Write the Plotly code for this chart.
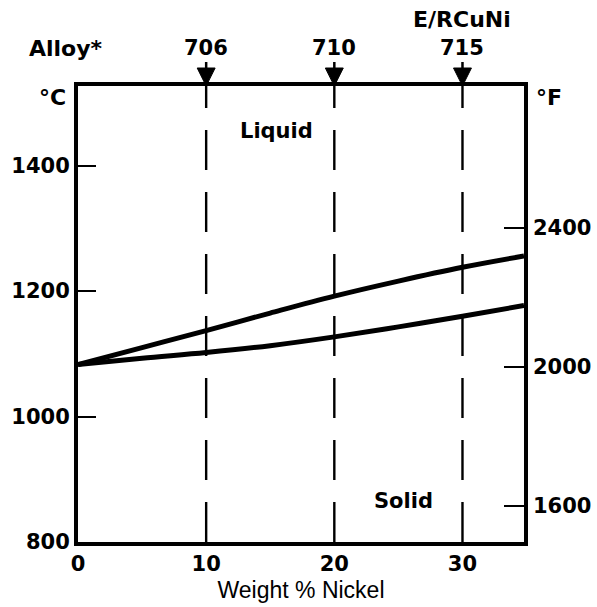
import plotly.graph_objects as go

# ---- data ----
nickel_pct = [0, 5, 10, 15, 20, 25, 30, 34.8]
liquidus_c = [1083, 1110, 1137, 1165, 1192, 1216, 1238, 1256]
solidus_c = [1083, 1093, 1102, 1113, 1127, 1143, 1160, 1177]

alloy_ni = [10, 20, 30]
alloy_labels = ["706", "710", "715"]

x_ticks = [0, 10, 20, 30]
c_ticks = [800, 1000, 1200, 1400]
f_ticks = [1600, 2000, 2400]

X_RANGE = [0, 34.8]
C_RANGE = [800, 1527]
F_RANGE = [1496, 2809]   # °F scale as printed on the right-hand axis

FONT = "DejaVu Sans"
TXT = dict(family=FONT, size=21, color="black", weight="bold")

fig = go.Figure()

# dashed vertical alloy lines (drawn bottom-up to set dash phase)
for xv in alloy_ni:
    fig.add_trace(go.Scatter(
        x=[xv, xv], y=[C_RANGE[0], C_RANGE[1]], mode="lines",
        line=dict(color="black", width=2.4, dash="40px,22px"),
        hoverinfo="skip", showlegend=False))

fig.add_trace(go.Scatter(x=nickel_pct, y=liquidus_c, mode="lines",
                         line=dict(color="black", width=5, shape="spline"),
                         name="Liquidus", showlegend=False))
fig.add_trace(go.Scatter(x=nickel_pct, y=solidus_c, mode="lines",
                         line=dict(color="black", width=5, shape="spline"),
                         name="Solidus", showlegend=False))
# trace on the Fahrenheit axis (so the axis is rendered)
fig.add_trace(go.Scatter(x=[None], y=[None], yaxis="y2", mode="lines",
                         showlegend=False, hoverinfo="skip"))

PLOT_H = 607 - 86 - 65
tri_h = 18 / PLOT_H
stem_h = 6 / PLOT_H
half_w = 0.7
shapes = []
annotations = []
for xv, lab in zip(alloy_ni, alloy_labels):
    shapes.append(dict(type="path", xref="x", yref="paper",
                       path=f"M {xv-half_w},{1+tri_h} L {xv+half_w},{1+tri_h} L {xv},1 Z",
                       fillcolor="black", line=dict(color="black", width=1)))
    shapes.append(dict(type="line", xref="x", yref="paper",
                       x0=xv, x1=xv, y0=1 + tri_h, y1=1 + tri_h + stem_h,
                       line=dict(color="black", width=2.5)))
    annotations.append(dict(text=lab, xref="x", yref="paper", x=xv, y=1 + 38 / PLOT_H,
                            showarrow=False, font=TXT, xanchor="center", yanchor="middle"))

annotations += [
    dict(text="Alloy*", xref="paper", yref="paper", x=-0.027, y=1 + 37 / PLOT_H,
         showarrow=False, font=dict(TXT, size=22), xanchor="center", yanchor="middle"),
    dict(text="E/RCuNi", xref="x", yref="paper", x=alloy_ni[-1], y=1 + 66 / PLOT_H,
         showarrow=False, font=dict(TXT, size=22), xanchor="center", yanchor="middle"),
    dict(text="°C", xref="paper", yref="paper", x=-0.058, y=1 - 11 / PLOT_H,
         showarrow=False, font=dict(TXT, size=22), xanchor="center", yanchor="middle"),
    dict(text="°F", xref="paper", yref="paper", x=1.056, y=1 - 12 / PLOT_H,
         showarrow=False, font=dict(TXT, size=22), xanchor="center", yanchor="middle"),
    dict(text="Liquid", xref="x", yref="y", x=15.5, y=1455,
         showarrow=False, font=TXT, xanchor="center", yanchor="middle"),
    dict(text="Solid", xref="x", yref="y", x=25.4, y=866,
         showarrow=False, font=TXT, xanchor="center", yanchor="middle"),
]

fig.update_layout(
    width=597, height=607,
    margin=dict(l=78, r=73, t=86, b=65, autoexpand=False),
    paper_bgcolor="white", plot_bgcolor="white",
    showlegend=False,
    shapes=shapes, annotations=annotations,
    xaxis=dict(range=X_RANGE, tickvals=x_ticks, ticks="", showgrid=False, zeroline=False,
               showline=True, linecolor="black", linewidth=4, mirror=True,
               tickfont=TXT, automargin=False,
               title=dict(text="Weight % Nickel", standoff=8,
                          font=dict(family="Liberation Sans", size=23, color="black"))),
    yaxis=dict(range=C_RANGE, tickvals=c_ticks, ticks="inside", ticklen=18, tickwidth=2,
               tickcolor="black", showgrid=False, zeroline=False,
               showline=True, linecolor="black", linewidth=4, mirror=True,
               tickfont=TXT, automargin=False, ticklabelstandoff=0),
    yaxis2=dict(range=F_RANGE, tickvals=f_ticks, overlaying="y", side="right",
                ticks="inside", ticklen=20, tickwidth=2, tickcolor="black",
                showgrid=False, zeroline=False, showline=False, tickfont=TXT,
                automargin=False, ticklabelstandoff=8),
)

fig.write_html("out.html", config={"displayModeBar": False})

# remove the default page margin so the figure sits at the window's corner
with open("out.html", "r", encoding="utf-8") as fh:
    html = fh.read()
html = html.replace("<head>", "<head><style>html,body{margin:0;padding:0;overflow:hidden;}</style>", 1)
with open("out.html", "w", encoding="utf-8") as fh:
    fh.write(html)
